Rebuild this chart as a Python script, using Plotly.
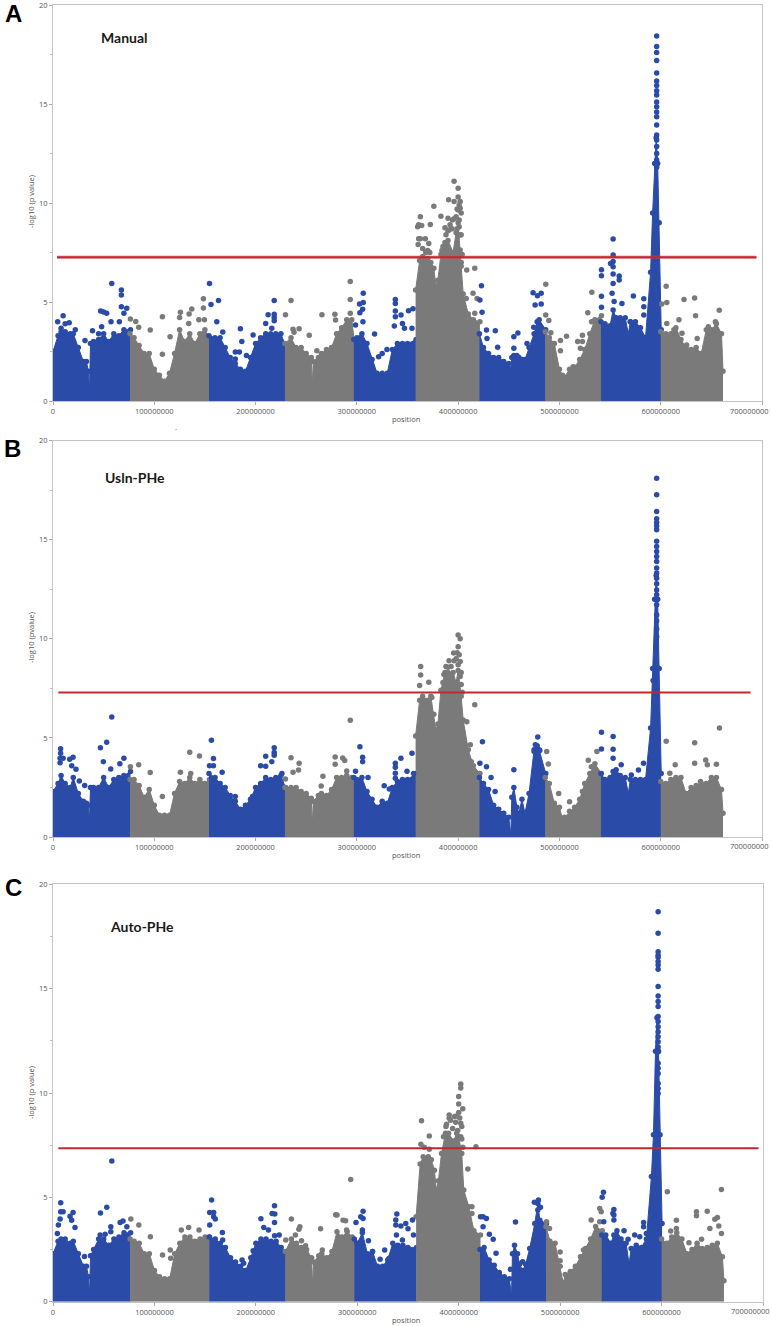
import plotly.graph_objects as go

BLUE = "#2a4ba8"
GRAY = "#7a7a7a"
RED = "#c1272d"

# chromosome block positions, in millions (blocks alternate blue / gray)
CHR_POS = [
    [0, 5, 8, 12, 17, 20, 25, 30, 33, 35, 36, 37, 40, 45, 50, 55, 60, 65, 70, 76.5],
    [76, 80, 85, 90, 95, 100, 105, 110, 115, 120, 125, 130, 135, 140, 145, 150, 154.5],
    [154, 160, 165, 170, 175, 180, 185, 190, 195, 200, 205, 210, 215, 220, 225, 229.5],
    [229, 235, 240, 245, 250, 255, 256, 257, 262, 265, 270, 275, 280, 285, 290, 295, 297.5],
    [297, 300, 305, 310, 315, 320, 325, 330, 335, 340, 345, 350, 358.5],
    [358, 362, 365, 370, 373, 376, 378, 380, 383, 387, 390, 395, 398, 400, 403, 405, 410, 415, 421.5],
    [421, 425, 430, 435, 440, 445, 450, 452, 453, 455, 458, 460, 463, 466, 470, 475, 478, 480, 486.5],
    [486, 490, 495, 500, 503, 505, 510, 515, 520, 525, 530, 535, 541.5],
    [541, 545, 550, 553, 556, 560, 565, 568, 570, 575, 580, 585, 590, 592, 594, 595.5, 597, 598.5, 600.5],
    [600, 605, 610, 615, 620, 625, 630, 635, 640, 645, 650, 655, 660, 661.5],
]
CHR_COLOR = [BLUE, GRAY, BLUE, GRAY, BLUE, GRAY, BLUE, GRAY, BLUE, GRAY]
BOUNDS = [(0, 76, BLUE), (76, 154, GRAY), (154, 229, BLUE), (229, 297, GRAY), (297, 358, BLUE),
          (358, 421, GRAY), (421, 486, BLUE), (486, 541, GRAY), (541, 600.5, BLUE), (600.5, 700, GRAY)]

# upper edge of the solid body of the points
A_ENV = [
    [2.5, 3.3, 3.5, 3.5, 3.4, 3.4, 2.7, 2.0, 2.0, 1.5, 0.5, 2.9, 3.0, 3.1, 3.4, 3.0, 3.4, 3.3, 3.6, 3.6],
    [3.4, 3.2, 2.8, 2.4, 2.4, 1.6, 1.3, 1.0, 1.4, 2.4, 3.6, 3.0, 3.4, 2.9, 3.4, 3.6, 3.2],
    [3.3, 3.2, 3.2, 2.7, 2.2, 1.9, 1.6, 1.5, 2.2, 2.9, 3.2, 3.4, 3.4, 3.4, 3.4, 2.8],
    [2.9, 3.2, 2.7, 2.7, 2.4, 2.2, 0.8, 2.0, 2.2, 2.4, 2.6, 2.7, 3.4, 3.7, 4.1, 4.1, 3.0],
    [3.1, 3.2, 3.4, 2.9, 2.1, 1.4, 1.4, 1.4, 2.6, 2.9, 2.9, 2.9, 3.1],
    [5.6, 7.1, 7.3, 7.2, 7.0, 6.7, 5.8, 6.1, 7.4, 8.0, 8.1, 7.5, 8.5, 9.0, 6.8, 5.4, 4.4, 4.1, 4.0],
    [3.4, 2.7, 2.4, 2.2, 2.2, 2.0, 1.9, 1.6, 2.2, 2.3, 2.3, 2.2, 2.1, 2.1, 2.7, 3.4, 4.0, 4.1, 3.6],
    [3.5, 3.2, 2.9, 1.6, 1.3, 1.2, 1.6, 1.7, 2.1, 2.6, 3.4, 4.1, 4.3],
    [4.0, 3.9, 3.8, 4.6, 4.2, 4.2, 4.2, 3.4, 4.0, 4.0, 3.7, 3.2, 6.5, 9.5, 12.0, 13.3, 12.0, 9.0, 3.6],
    [3.5, 3.4, 3.4, 3.7, 3.1, 2.7, 2.6, 2.7, 2.4, 3.6, 3.6, 3.9, 3.4, 1.5],
]
B_ENV = [
    [2.3, 2.7, 3.1, 2.7, 2.5, 3.0, 2.2, 1.8, 1.7, 1.6, 0.8, 2.5, 2.5, 2.5, 3.0, 2.5, 2.9, 3.0, 3.1, 3.3],
    [2.9, 2.9, 2.6, 2.0, 2.4, 1.6, 1.1, 1.1, 1.1, 2.2, 2.8, 2.7, 3.0, 2.7, 2.9, 2.7, 2.9],
    [3.2, 3.0, 2.7, 2.5, 2.1, 1.8, 1.4, 1.6, 1.9, 2.5, 2.7, 3.0, 2.9, 3.0, 3.1, 2.5],
    [2.5, 2.5, 2.5, 2.3, 2.2, 1.95, 0.6, 1.8, 2.1, 2.2, 2.1, 2.4, 3.0, 3.0, 3.1, 3.0, 2.9],
    [3.0, 2.9, 3.0, 2.3, 1.9, 1.5, 1.8, 1.7, 2.5, 2.8, 2.9, 2.9, 3.2],
    [5.1, 6.9, 7.1, 6.9, 7.1, 6.2, 5.4, 5.7, 7.4, 8.3, 8.3, 8.3, 7.8, 8.4, 7.1, 5.9, 4.4, 3.6, 3.2],
    [3.0, 2.7, 2.4, 1.6, 1.4, 1.2, 1.0, 0.1, 2.0, 2.5, 1.5, 1.2, 1.9, 1.2, 2.2, 4.4, 4.6, 4.4, 3.2],
    [3.0, 2.7, 1.7, 1.5, 0.9, 1.0, 1.3, 1.5, 1.9, 2.7, 3.2, 3.7, 3.2],
    [3.2, 2.9, 3.0, 3.3, 3.4, 3.1, 3.0, 2.2, 2.9, 2.9, 2.9, 2.9, 5.5, 8.5, 12.0, 13.2, 12.0, 8.5, 3.2],
    [2.8, 2.7, 2.9, 3.0, 3.0, 2.2, 2.5, 2.6, 2.7, 2.7, 3.0, 3.0, 2.4, 1.2],
]
C_ENV = [
    [2.3, 2.9, 3.0, 3.0, 2.8, 2.9, 2.3, 1.7, 1.7, 1.2, 0.3, 2.2, 2.5, 3.0, 3.0, 2.7, 3.0, 3.1, 3.3, 3.3],
    [3.0, 2.9, 2.8, 2.3, 2.3, 1.5, 1.2, 1.1, 1.1, 2.3, 2.8, 3.1, 3.1, 2.9, 3.0, 3.1, 3.1],
    [3.1, 3.0, 2.8, 2.6, 2.1, 1.9, 1.7, 1.5, 2.1, 2.8, 3.0, 3.0, 2.9, 2.9, 2.6, 2.3],
    [2.4, 3.0, 2.8, 2.6, 2.5, 2.1, 0.7, 1.9, 2.2, 2.3, 2.1, 2.4, 3.35, 3.1, 3.35, 3.1, 2.9],
    [3.0, 2.8, 3.3, 2.3, 2.4, 1.7, 1.7, 2.0, 2.8, 2.7, 2.7, 2.6, 2.6],
    [4.07, 6.6, 6.95, 6.95, 6.8, 6.3, 5.35, 5.8, 7.1, 8.07, 8.07, 7.7, 8.07, 7.9, 7.1, 5.35, 4.55, 3.4, 3.2],
    [2.5, 2.6, 2.0, 1.75, 1.4, 1.2, 1.1, 0.25, 2.3, 2.7, 2.3, 1.8, 1.5, 1.8, 2.55, 3.75, 4.7, 3.9, 3.75],
    [3.6, 2.9, 2.8, 1.7, 0.9, 1.3, 1.45, 1.7, 2.15, 2.55, 3.0, 3.6, 3.4],
    [3.2, 3.2, 2.8, 3.2, 3.4, 3.0, 2.8, 1.8, 2.55, 2.7, 2.6, 3.0, 6.0, 8.0, 12.0, 13.6, 12.0, 8.0, 3.75],
    [3.0, 2.8, 3.1, 3.3, 3.0, 2.3, 2.5, 2.8, 2.55, 2.6, 2.7, 2.8, 2.15, 1.0],
]

# single points standing above the body: (position in millions, -log10 p)
A_POINTS = [
    (4.6,4.0),(10,4.3),(12,3.9),(16,3.95),(8,3.67),(22,3.6),(31.6,3.06),(58,5.94),(67.5,5.6),(67.5,5.35),(67.5,4.76),
    (72.8,4.68),(70,4.43),(47,4.54),(50,4.5),(53,4.43),(48,3.75),(57.3,4),(65.5,4),(39,3.55),(45,3.4),
    (76.4,4.14),(81.7,4.02),(84.6,3.72),(96,3.58),(108,4.26),(108,2.36),(115.6,3.25),(125.8,4.48),(125,4.22),(134.4,4.39),
    (137,4.65),(134,3.92),(148.5,5.17),(148.5,4.7),(144,4.1),(149.5,4.1),(154.5,5.93),(156,4.87),(163.4,5.07),(161.7,4.0),
    (167.6,3.48),(185,3.65),(186.4,3.0),(180,2.47),(184,2.47),(180,2.12),(191,2.3),(197.6,3.33),(212.4,4.36),(218.4,5.08),
    (218.4,4.38),(218.4,4.22),(218.4,4.05),(210,3.92),(216,3.67),(229.5,4.36),(235,5.08),(237,3.62),(243,3.65),(253,3.32),
    (238,3.47),(260.5,2.54),(265.5,4.36),(278.3,4.38),(279,4.09),(293.5,6.03),(293.5,5.12),(293.5,4.43),(306.3,5.44),
    (302.7,4.9),(306.3,4.97),(305.7,4.63),(303,4.46),(306,4.0),(298.7,3.84),(317.5,3.38),(329.7,2.6),(321.5,2.24),(325,2.4),
    (338,5.13),(338,4.93),(338,4.55),(338,4.26),(343.6,4.34),(345,3.92),(351,4.56),(355.4,4.66),(337,3.79),(354.4,3.67),(347,3.67),
    (362.7,9.31),(360,8.8),(364,8.86),(372.5,8.92),(376,9.83),(383,9.33),(362.7,8.2),(367.6,8.2),(371,7.96),(396,11.1),
    (400,10.74),(390.6,10.17),(396,10.07),(400,10.3),(402,10.07),(402,9.73),(400,9.65),(390,9.23),(394.3,9.14),(401,9.14),
    (387,8.75),(391,8.64),(402,8.38),(402,7.63),(408.5,6.62),(416.4,6.7),(414.7,5.44),(418.7,5.18),(408,5.18),(416.4,4.43),
    (385,7.8),(388,8.4),(390,8.6),(392,8.9),(394,8.7),(396,9.2),(398,9.3),(399,9.7),(401,9.9),(403,9.5),(401,8.8),(403,8.4),
    (399,8.7),(384,7.6),(360.5,7.9),(361,8.2),(365,7.7),(368,7.5),(370,7.6),(372,7.5),(361,8.9),(404,7.4),(403,7.0),
    (423,5.82),(421.5,5.1),(423.6,4.48),(428,3.59),(436.7,3.55),(439,2.71),(428.5,3.16),(459,3.43),(455,3.25),(455,2.66),
    (468,2.9),(474,5.47),(478.3,5.32),(482,5.44),(476,4.85),(482,4.9),(474.6,3.72),(486.5,5.9),(486.5,4.34),(489.5,4.06),
    (491.5,3.45),(507,3.27),(501,3.05),(501,2.54),(518,3.01),(522.7,3.32),(522.7,3.0),(520.7,2.66),(513.5,1.73),(532,5.49),
    (528,4.46),(531.7,4.0),(541.5,6.63),(541.5,6.33),(541.5,5.29),(541.5,4.73),(553,8.18),(553,7.37),(553,7.04),(550.5,6.95),
    (553,6.78),(553,6.41),(559,6.31),(559,6.11),(553,5.94),(552,5.44),(554,5.02),(561.7,4.93),(573,5.3),(583.3,5.17),
    (583.3,4.76),(583.3,4.34),(570,4.0),(547,3.1),(605.4,5.79),(606,4.98),(601,4.9),(623,5.13),(633.5,5.2),(634.4,4.3),
    (657.8,4.58),(606,3.92),(618,4.1),(613,3.6),(654,4.0),(647,3.75),(625.6,2.83),(636,3.16),(621,3.42),
]
B_POINTS = [
    (7.5,4.45),(7.5,4.23),(7,3.97),(7,3.75),(10,3.97),(16.5,3.92),(19.8,4.02),(18.5,3.59),(22.7,3.42),(26,2.83),(31.3,2.6),
    (46.8,4.51),(53,4.78),(58,6.06),(49.7,3.8),(57,3.43),(70,3.97),(66,3.7),(76.4,3.55),(84.6,3.65),(96,3.25),(108,2.04),
    (125.8,3.27),(135,4.28),(144.6,4.09),(136,3.2),(156.4,4.88),(158.4,3.96),(154.5,3.59),(158.4,3.59),(167,3.27),(180,2.04),
    (197,2.04),(210,4.07),(205,3.6),(210,3.57),(216,3.8),(218.4,4.51),(218.4,4.26),(218.4,4.12),(226,3.2),(235,4.0),(243,3.72),
    (242.4,3.38),(237,3.27),(229.5,2.93),(266.5,3.06),(264.8,2.58),(278.6,4.04),(286,3.99),(288,3.86),(290,3.33),(278.6,3.67),
    (293.5,5.89),(303,4.56),(305.7,4.02),(305.7,3.8),(298.7,3.32),(311,3.0),(327,2.59),(332,2.42),(338,3.72),(338,3.52),(338,3.22),
    (338,2.96),(343.5,3.97),(349.5,3.32),(354.4,4.23),(356,3.2),(363,8.6),(363,8.18),(362,7.64),(371,7.81),(374,7.04),(390,8.57),
    (391,8.89),(400,10.2),(402,10),(400,9.6),(395.6,9.28),(402,8.86),(400,8.69),(402,8.1),(416.4,6.67),(408.5,5.82),(412,4.65),
    (388,8.6),(393,8.6),(396,8.9),(398,9.0),(399,9.3),(401,9.2),(403,8.3),(403,7.7),(385,7.8),(404,7.3),(386,8.2),
    (413,3.8),(424,4.81),(421.5,3.72),(428,3.55),(432.5,3.0),(436.5,2.3),(455,3.4),(478.6,5.05),(476.3,4.65),(475,4.31),(480.6,4.36),
    (487.4,4.31),(489,3.69),(499.3,2.19),(510,1.78),(522.7,2.29),(528.5,3.87),(537,4.31),(531.5,3.55),(541.5,5.29),(541.5,4.44),
    (553,5.07),(553,4.43),(553,3.97),(561,3.64),(583,3.72),(571,3.13),(578,3.38),(592.5,7.9),(605.4,4.83),(633.5,4.76),(658,5.5),
    (633.5,3.72),(614.3,3.64),(644.4,3.89),(646,3.64),(655,3.67),(609,3.22),(639.3,2.8),
]
C_POINTS = [
    (7.6,4.74),(7.6,4.31),(10,4.31),(7,3.96),(16.8,4.1),(19.8,4.27),(18.4,3.9),(21.7,3.55),(31,2.16),(5.3,3.67),(4.3,3.27),
    (46.8,4.25),(53,4.52),(58,6.74),(57,3.59),(57,3.35),(46.5,3.2),(51.4,3.23),(66.2,3.79),(69,3.87),(72.8,3.59),(76.7,3.96),
    (84.6,3.67),(96,3.11),(108,2.24),(115.6,2.48),(126.5,3.43),(133.7,3.55),(144,3.43),(116,2.08),(156.4,4.87),(154.5,4.27),
    (158.4,4.27),(158.4,4.07),(160,3.96),(154.5,3.67),(167,3.32),(167.3,2.96),(186.4,2.0),(188,1.84),(197.3,2.44),(205,3.98),
    (207.8,3.56),(212.4,3.43),(216,4.23),(218.4,4.6),(218.7,4.2),(218.4,3.8),(218.4,3.16),(223,3.19),(229.5,2.96),(235,3.96),
    (243.4,3.59),(242.4,3.47),(239,3.19),(245,2.92),(249,2.68),(263.8,3.5),(265.5,2.48),(278.6,4.17),(280,4.15),(286,3.9),
    (288.5,3.88),(293.5,5.86),(289.5,3.43),(305.7,4.33),(303.4,4.07),(305.7,3.99),(298.7,3.8),(305,3.43),(311,2.92),(315,2.4),
    (322.5,2.03),(327,2.48),(331.4,2.08),(339,4.2),(338,3.91),(338,3.67),(343,3.63),(347.8,3.75),(350,3.5),(354.4,3.91),
    (338.6,3.19),(355.4,3.19),(344.5,2.96),(363.3,8.67),(371,7.94),(362.7,7.54),(366,7.4),(371,7.3),(390.6,8.95),(390.6,8.79),
    (396,8.87),(402,10.43),(402,10.24),(400,9.83),(400,9.47),(404,9.25),(400,9.06),(402,8.55),(387.4,8.39),(385,7.9),(402,7.9),
    (388,8.5),(392,8.7),(394,8.3),(397,8.6),(398,8.9),(401,8.8),(403,8.4),(403,7.8),(404,7.4),(399,8.2),
    (417,7.43),(409,6.36),(413,4.55),(413,4.23),(421.5,4.07),(424,4.07),(427.3,3.99),(424,3.59),(430.2,3.23),(434,2.99),
    (436.8,2.32),(451,1.55),(456,3.82),(463,1.92),(474.6,4.76),(478.6,4.87),(480.6,4.52),(478,4.39),(486.5,3.83),(489.5,3.51),
    (500,2.38),(500,1.96),(523,2.48),(530.6,3.91),(539,4.47),(540.5,4.31),(539,3.83),(542.7,5.24),(541.4,5),(553,4.42),(553,4.15),
    (552,4.23),(553,3.91),(543,3.83),(563,3.4),(567,2.99),(582.3,3.79),(582.3,3.59),(573.5,3.19),(578.5,3.11),(585,3.27),
    (605.7,5.27),(659,5.38),(634.4,4.31),(634.4,4.12),(645,4.33),(655,4.04),(614.6,3.9),(652.5,3.95),(656.4,3.63),(609,3.39),
    (614.6,3.51),(647.6,3.51),(659,3.27),(627,2.83),(639.4,2.99),
]

# points of the tall column near 596 million
PEAK_POS = [596.0, 596.0, 596.6]
A_PEAK = [18.43,17.9,17.6,17.2,16.57,16.16,15.94,15.67,15.45,15.1,14.86,14.6,14.36,13.94,13.43,13.18,12.85,12.5,12.17,11.8]
B_PEAK = [18.1,17.27,16.43,16.06,15.87,15.7,15.5,14.92,14.66,14.41,14.16,13.9,13.57,13.32,13.06,12.78,12.47,12.22,11.97,11.72,11.2,10.9,10.5,10.1]
C_PEAK = [18.69,17.65,16.77,16.6,16.5,16.3,16.13,15.93,15.1,14.65,14.38,14.14,13.66,13.42,13.18,12.94,12.7,12.46,12.2,11.98,11.42,11.18,10.94,10.46,10.22,9.98]

THRESH = [7.26, 7.29, 7.35]
THRESH_X = [(4, 694.5), (5.3, 688.7), (5.3, 695.6)]
X_TICKS = [0, 100000000, 200000000, 300000000, 400000000, 500000000, 600000000, 700000000]
X_LABELS = ["0", "100000000", "200000000", "300000000", "400000000", "500000000", "600000000", ""]
LAST_X_LABEL = "700000000"
Y_TICKS = [0, 5, 10, 15, 20]
Y_TITLES = ["-log10 (p value)", "-log10 (pvalue)", "-log10 (p value)"]
PANELS = ["A", "B", "C"]
NAMES = ["Manual", "Usln-PHe", "Auto-PHe"]

W, H = 771, 1326
BOX = [(53, 762, 5, 401), (53, 762, 440.7, 837), (53, 763, 884.3, 1301.7)]
LETTER_XY = [(13, 14), (12, 448), (13, 888)]
NAME_XY = [(124, 37), (135, 477), (142, 926)]
TITLE_Y = [202, 638, 1093]
POS_Y = [419, 855, 1320]
LAST_LABEL_XY = [(749, 411), (749, 846.5), (750, 1311)]
DOT = 5.5

ENVS = [A_ENV, B_ENV, C_ENV]
POINTS = [A_POINTS, B_POINTS, C_POINTS]
PEAKS = [A_PEAK, B_PEAK, C_PEAK]


def color_of(p):
    for lo, hi, c in BOUNDS:
        if lo <= p < hi:
            return c
    return GRAY


fig = go.Figure()
layout = {}
annotations = []
for i in range(3):
    xname = "xaxis" if i == 0 else f"xaxis{i+1}"
    yname = "yaxis" if i == 0 else f"yaxis{i+1}"
    xref = "x" if i == 0 else f"x{i+1}"
    yref = "y" if i == 0 else f"y{i+1}"
    x0, x1, y0, y1 = BOX[i]
    common = dict(showgrid=False, zeroline=False, showline=True, linecolor="#c4c4c4", linewidth=1, mirror=True,
                  automargin=False, ticks="outside", ticklen=3, tickcolor="#aaaaaa", ticklabeloverflow="allow",
                  tickfont=dict(family="Open Sans", size=7.5, color="#555555"))
    layout[xname] = dict(common, domain=[x0 / W, x1 / W], anchor=yref, range=[0, 700000000],
                         tickmode="array", tickvals=X_TICKS, ticktext=X_LABELS)
    layout[yname] = dict(common, domain=[1 - y1 / H, 1 - y0 / H], anchor=xref, range=[0, 20],
                         tickmode="array", tickvals=Y_TICKS,
                         minor=dict(tickvals=[2.5, 7.5, 12.5, 17.5], ticks="outside", ticklen=2, tickcolor="#bbbbbb"))

    for pos, env, col in zip(CHR_POS, ENVS[i], CHR_COLOR):
        fig.add_trace(go.Scatter(x=[p * 1e6 for p in pos], y=env, xaxis=xref, yaxis=yref, mode="lines+markers",
                                 fill="tozeroy", fillcolor=col, line=dict(color=col, width=1),
                                 marker=dict(color=col, size=DOT), showlegend=False))
    px = [p * 1e6 for p, _ in POINTS[i]]
    py = [v for _, v in POINTS[i]]
    pc = [color_of(p) for p, _ in POINTS[i]]
    fig.add_trace(go.Scatter(x=px, y=py, xaxis=xref, yaxis=yref, mode="markers",
                             marker=dict(color=pc, size=DOT), showlegend=False))
    fig.add_trace(go.Scatter(x=[PEAK_POS[i] * 1e6] * len(PEAKS[i]), y=PEAKS[i], xaxis=xref, yaxis=yref,
                             mode="markers", marker=dict(color=BLUE, size=DOT), showlegend=False))
    tx = [THRESH_X[i][0] * 1e6, THRESH_X[i][1] * 1e6]
    if i == 0:
        fig.add_trace(go.Scatter(x=tx, y=[THRESH[i]] * 2, xaxis=xref, yaxis=yref, mode="lines",
                                 line=dict(color="rgba(215,70,85,0.45)", width=3.5), showlegend=False))
    fig.add_trace(go.Scatter(x=tx, y=[THRESH[i]] * 2, xaxis=xref, yaxis=yref, mode="lines",
                             line=dict(color=RED, width=2), showlegend=False))

    annotations.append(dict(text=f"<b>{PANELS[i]}</b>", x=LETTER_XY[i][0] / W, y=1 - LETTER_XY[i][1] / H, xref="paper", yref="paper",
                            showarrow=False, font=dict(family="Liberation Sans", size=24, color="#000000"),
                            xanchor="center", yanchor="middle"))
    annotations.append(dict(text=f"<b>{NAMES[i]}</b>", x=NAME_XY[i][0] / W, y=1 - NAME_XY[i][1] / H, xref="paper", yref="paper",
                            showarrow=False, font=dict(family="Lato", size=14, color="#1a1a1a"),
                            xanchor="center", yanchor="middle"))
    annotations.append(dict(text=Y_TITLES[i], x=31 / W, y=1 - TITLE_Y[i] / H, xref="paper", yref="paper", textangle=-90,
                            showarrow=False, font=dict(family="Open Sans", size=7.5, color="#555555"),
                            xanchor="center", yanchor="middle"))
    annotations.append(dict(text="position", x=406 / W, y=1 - POS_Y[i] / H, xref="paper", yref="paper",
                            showarrow=False, font=dict(family="Open Sans", size=7.5, color="#555555"),
                            xanchor="center", yanchor="middle"))
    annotations.append(dict(text=LAST_X_LABEL, x=LAST_LABEL_XY[i][0] / W, y=1 - LAST_LABEL_XY[i][1] / H, xref="paper", yref="paper",
                            showarrow=False, font=dict(family="Open Sans", size=7.5, color="#555555"),
                            xanchor="center", yanchor="middle"))
annotations.append(dict(text=".", x=176 / W, y=1 - 427 / H, xref="paper", yref="paper", showarrow=False,
                        font=dict(family="Open Sans", size=8, color="#555555"), xanchor="center", yanchor="middle"))

fig.update_layout(width=W, height=H, margin=dict(l=0, r=0, t=0, b=0), autosize=False,
                  paper_bgcolor="white", plot_bgcolor="white", showlegend=False, annotations=annotations, **layout)

fig.write_html("out.html", config={"displayModeBar": False},
               post_script="document.body.style.margin='0';document.body.style.overflow='hidden';")
